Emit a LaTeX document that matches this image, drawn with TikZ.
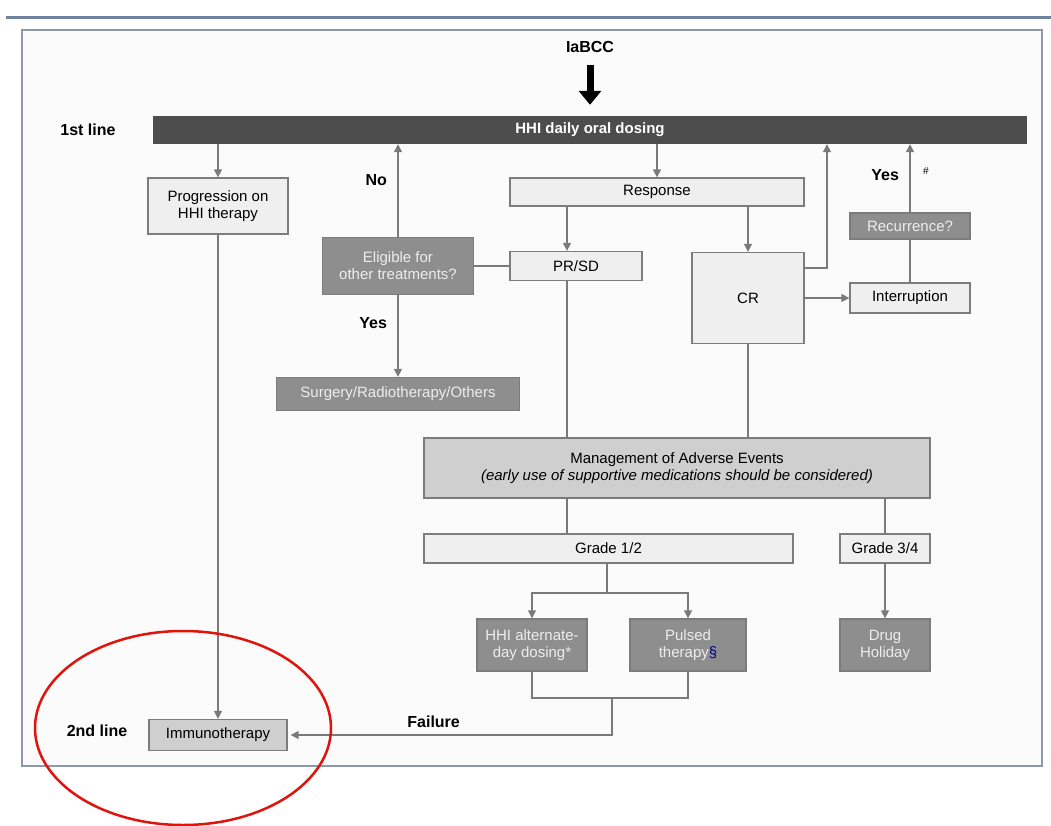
\documentclass[tikz,border=0pt]{standalone}
\usepackage{fontspec}
\setmainfont{Liberation Sans}
\usepackage{tikz}
\usetikzlibrary{arrows.meta}
\definecolor{barfill}{HTML}{4D4D4D}
\definecolor{darkfill}{HTML}{8E8E8E}
\definecolor{midfill}{HTML}{CFCFCF}
\definecolor{lightfill}{HTML}{EFEFEF}
\definecolor{boxline}{HTML}{7C7C7C}
\definecolor{connline}{HTML}{7A7A7A}
\definecolor{framecol}{HTML}{8D99AA}
\definecolor{topband}{HTML}{7283A0}
\definecolor{ringred}{HTML}{E0140C}

\begin{document}
\begin{tikzpicture}[x=1pt, y=-1pt,
    box/.style={draw=boxline, line width=1.3pt, inner sep=0pt, align=center, font=\fontsize{15}{17}\selectfont},
    lightbox/.style={box, fill=lightfill},
    midbox/.style={box, fill=midfill},
    darkbox/.style={box, fill=darkfill, text=white!93!black},
    link/.style={draw=connline, line width=1.4pt},
    linkarr/.style={link, -{Triangle[length=8pt, width=8pt]}},
    tag/.style={font=\bfseries\fontsize{16}{18}\selectfont}]
                \useasboundingbox (0,0) rectangle (1051,826);

                % Page and frame
                \fill[white] (0,0) rectangle (1051,826);
                \draw[topband, line width=3pt] (6,18) -- (1051,18);
                \draw[framecol, line width=1.5pt, fill=black!1.5] (22,30) rectangle (1042,766);

                % Entry and first line
                \node[tag] (iabcc) at (590,47) {IaBCC};
                \node[fill=barfill, text=white, minimum width=874pt, minimum height=28pt,
                      font=\bfseries\fontsize{15}{17}\selectfont] (bar) at (590,130) {HHI daily oral dosing};
                \draw[line width=7pt, shorten <=9pt, shorten >=11pt,
                      -{Triangle[length=14pt, width=22pt]}] (iabcc) -- (bar);
                \node[tag] (firstline) at (88,130) {1st line};
                \node[tag] (secondline) at (97,731) {2nd line};

                % Boxes
                \node[lightbox, minimum width=140pt, minimum height=56pt] (prog) at (218,206) {Progression on\\HHI therapy};
                \node[darkbox, minimum width=151pt, minimum height=57pt] (elig) at (398,266) {Eligible for\\other treatments?};
                \node[darkbox, minimum width=243pt, minimum height=33pt] (surg) at (398,394) {Surgery/Radiotherapy/Others};
                \node[lightbox, minimum width=294pt, minimum height=28pt] (resp) at (657,192) {Response};
                \node[lightbox, minimum width=132pt, minimum height=29pt] (prsd) at (576,266) {PR/SD};
                \node[lightbox, minimum width=112pt, minimum height=91pt] (cr) at (748,298) {CR};
                \node[lightbox, minimum width=120pt, minimum height=30pt] (interr) at (910,298) {Interruption};
                \node[darkbox, minimum width=120pt, minimum height=26pt] (recur) at (910,226) {Recurrence?};
                \node[midbox, minimum width=506pt, minimum height=60pt] (mgmt) at (677,468)
                     {Management of Adverse Events\\\textit{(early use of supportive medications should be considered)}};
                \node[lightbox, minimum width=369pt, minimum height=29pt] (g12) at (608.5,548.5) {Grade 1/2};
                \node[lightbox, minimum width=90pt, minimum height=29pt] (g34) at (885,548.5) {Grade 3/4};
                \node[darkbox, minimum width=110pt, minimum height=52pt] (alt) at (532,645) {HHI alternate-\\day dosing*};
                \node[darkbox, minimum width=116pt, minimum height=52pt] (puls) at (688,645) {Pulsed\\therapy{\color{blue!55!black}§}};
                \node[darkbox, minimum width=90pt, minimum height=52pt] (drug) at (885,645) {Drug\\Holiday};
                \node[midbox, minimum width=138pt, minimum height=31pt] (immuno) at (218,735) {Immunotherapy};

                % Helper points
                \coordinate (colA) at (567,300);
                \coordinate (crturn) at (827,268);
                \coordinate (split) at (607,593);
                \coordinate (join) at (612,698);
                \coordinate (failturn) at (612,735);

                % Progression
                \draw[linkarr] (bar.south -| prog.north) -- (prog.north);
                \draw[linkarr] (prog.south) -- (immuno.north);

                % Eligibility
                \draw[linkarr] (elig.north) -- (bar.south -| elig.north) node[tag, pos=0.61, left=7pt] {No};
                \draw[linkarr] (elig.south) -- (surg.north) node[tag, pos=0.34, left=7pt] {Yes};
                \draw[link] (elig.east) -- (prsd.west);

                % Response
                \draw[linkarr] (bar.south -| resp.north) -- (resp.north);
                \draw[linkarr] (resp.south -| colA) -- (prsd.north -| colA);
                \draw[linkarr] (resp.south -| cr.north) -- (cr.north);

                % Complete response
                \draw[linkarr] (cr.east |- crturn) -- (crturn) -- (bar.south -| crturn);
                \draw[linkarr] (cr.east |- interr.west) -- (interr.west);
                \draw[link] (interr.north) -- (recur.south);
                \draw[linkarr] (recur.north) -- (bar.south -| recur.north)
                     node[tag, pos=0.54, left=7pt] {Yes}
                     node[pos=0.6, right=9pt, font=\fontsize{10}{12}\selectfont] {\#};

                % Adverse events
                \draw[link] (prsd.south -| colA) -- (mgmt.north -| colA);
                \draw[link] (cr.south) -- (mgmt.north -| cr.south);
                \draw[link] (mgmt.south -| colA) -- (g12.north -| colA);
                \draw[link] (mgmt.south -| g34.north) -- (g34.north);

                % Grade 1/2 and 3/4
                \draw[link] (g12.south -| split) -- (split);
                \draw[linkarr] (split) -| (alt.north);
                \draw[linkarr] (split) -| (puls.north);
                \draw[linkarr] (g34.south) -- (drug.north);

                % Failure
                \draw[link] (alt.south) |- (join) -| (puls.south);
                \draw[linkarr, shorten >=3pt] (join) -- (failturn) -- (immuno.east |- failturn)
                     node[tag, pos=0.55, above=3pt] {Failure};

                % Highlight
                \draw[ringred, line width=2.5pt] (183,728) ellipse [x radius=148, y radius=97];
            \end{tikzpicture}
\end{document}
